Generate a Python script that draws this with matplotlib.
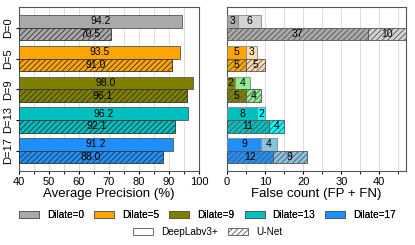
import matplotlib
matplotlib.use("Agg")
import matplotlib.pyplot as plt
from matplotlib.patches import Patch
import numpy as np

plt.rcParams['font.family'] = ['Liberation Sans', 'DejaVu Sans']
plt.rcParams['hatch.linewidth'] = 0.6

categories = ['D=0', 'D=5', 'D=9', 'D=13', 'D=17']
legend_names = ['Dilate=0', 'Dilate=5', 'Dilate=9', 'Dilate=13', 'Dilate=17']
ap_deeplab = [94.2, 93.5, 98.0, 96.2, 91.2]
ap_unet = [70.5, 91.0, 96.1, 92.1, 88.0]
fp_deeplab = [3, 5, 2, 8, 9]
fn_deeplab = [6, 3, 4, 2, 4]
fp_unet = [37, 5, 5, 11, 12]
fn_unet = [10, 5, 4, 4, 9]
colors = ['#a9a9a9', '#ffa500', '#808000', '#00bfbf', '#1e8fff']
light_colors = ['#d3d3d3', '#ffdcae', '#90ee90', '#00ffff', '#88c4e2']

fig = plt.figure(figsize=(4.15, 2.45), dpi=100)
ax1 = fig.add_axes([19/415, 1-171/245, 180/415, 163.5/245])
ax2 = fig.add_axes([227/415, 1-171/245, 179/415, 163.5/245])

y = np.arange(len(categories))
h = 0.41
xmin = 40

for i in range(len(categories)):
    ax1.barh(y[i] - h/2, ap_deeplab[i] - xmin, left=xmin, height=h, color=colors[i],
             edgecolor='#555555', linewidth=0.6, zorder=3)
    ax1.barh(y[i] + h/2, ap_unet[i] - xmin, left=xmin, height=h, color=colors[i],
             edgecolor='#333333', linewidth=0.6, hatch='//////', zorder=3)
    ax1.text(max((xmin + ap_deeplab[i]) / 2, 63.7), y[i] - h/2, f"{ap_deeplab[i]:.1f}",
             ha='center', va='center', fontsize=7.5, zorder=4)
    ax1.text(max((xmin + ap_unet[i]) / 2, 63.7), y[i] + h/2, f"{ap_unet[i]:.1f}",
             ha='center', va='center', fontsize=7.5, zorder=4)

ax1.set_xlim(40, 100)
ax1.set_ylim(len(categories) - 0.34, -0.66)
ax1.set_yticks(y)
ax1.set_yticklabels(categories, rotation=90, va='center', fontsize=8)
ax1.set_xticks(np.arange(40, 101, 10))
ax1.set_xticks(np.arange(45, 100, 10), minor=True)
ax1.tick_params(axis='x', labelsize=8, length=2.5, pad=1.5)
ax1.tick_params(axis='x', which='minor', length=2)
ax1.tick_params(axis='y', length=2.5, pad=1.5)
ax1.grid(axis='x', which='both', color='#dddddd', linewidth=0.7, zorder=0)
ax1.set_axisbelow(True)
ax1.set_xlabel('Average Precision (%)', fontsize=9.5, labelpad=1)

for i in range(len(categories)):
    ax2.barh(y[i] - h/2, fp_deeplab[i], height=h, color=colors[i],
             edgecolor='#888888', linewidth=0.6, zorder=3)
    ax2.barh(y[i] - h/2, fn_deeplab[i], left=fp_deeplab[i], height=h, color=light_colors[i],
             edgecolor='#888888', linewidth=0.6, zorder=3)
    ax2.barh(y[i] + h/2, fp_unet[i], height=h, color=colors[i],
             edgecolor='#555555', linewidth=0.6, hatch='//////', zorder=3)
    ax2.barh(y[i] + h/2, fn_unet[i], left=fp_unet[i], height=h, color=light_colors[i],
             edgecolor='#555555', linewidth=0.6, hatch='//////', zorder=3)
    for left, val, yy in [(0, fp_deeplab[i], y[i] - h/2),
                          (fp_deeplab[i], fn_deeplab[i], y[i] - h/2),
                          (0, fp_unet[i], y[i] + h/2),
                          (fp_unet[i], fn_unet[i], y[i] + h/2)]:
        ax2.text(left + val / 2, yy, str(val), ha='center', va='center', fontsize=7.5, zorder=4)

ax2.set_xlim(0, max(a + b for a, b in zip(fp_unet, fn_unet)))
ax2.set_ylim(len(categories) - 0.34, -0.66)
ax2.set_yticks([])
ax2.set_xticks(np.arange(0, 41, 10))
ax2.set_xticks(np.arange(5, 47, 10), minor=True)
ax2.tick_params(axis='x', labelsize=8, length=2.5, pad=1.5)
ax2.tick_params(axis='x', which='minor', length=2)
ax2.grid(axis='x', which='both', color='#dddddd', linewidth=0.7, zorder=0)
ax2.set_axisbelow(True)
ax2.set_xlabel('False count (FP + FN)', fontsize=9.5, labelpad=1)

for ax in (ax1, ax2):
    for s in ax.spines.values():
        s.set_color('#555555')
        s.set_linewidth(0.8)

leg_kw = dict(loc='center', frameon=False, fontsize=7.2, handlelength=2.0,
              handleheight=0.7, columnspacing=1.0, handletextpad=0.8, borderpad=0)
handles1 = [Patch(facecolor=c, edgecolor='#555555', linewidth=0.6, label=n)
            for c, n in zip(colors, legend_names)]
leg1 = fig.legend(handles=handles1, bbox_to_anchor=(0.5, 1-215/245), ncol=5, **leg_kw)
handles2 = [Patch(facecolor='white', edgecolor='#555555', linewidth=0.6, label='DeepLabv3+'),
            Patch(facecolor='white', edgecolor='#555555', linewidth=0.6, hatch='//////', label='U-Net')]
fig.add_artist(leg1)
fig.legend(handles=handles2, bbox_to_anchor=(0.5, 1-232/245), ncol=2, **leg_kw)

fig.savefig('out.png', dpi=100)
